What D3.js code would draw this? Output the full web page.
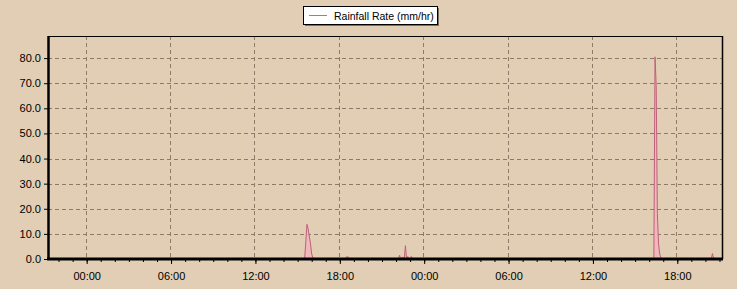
<!DOCTYPE html>
<html>
<head>
<meta charset="utf-8">
<script src="https://cdn.jsdelivr.net/npm/d3@7"></script>
<style>
  body { margin: 0; background: #e1ceb4; }
  svg { display: block; font-family: "Liberation Sans", Arial, sans-serif; }
</style>
</head>
<body>
<div id="chart"></div>
<script>
  // rainfall readings, only the wet spells; everything else is zero
  var times = [
    '2024-06-02T15:30', '2024-06-02T15:40', '2024-06-02T15:45', '2024-06-02T15:55',
    '2024-06-02T16:00', '2024-06-02T16:05', '2024-06-02T16:15',
    '2024-06-02T18:25', '2024-06-02T18:30', '2024-06-02T18:40', '2024-06-02T18:45',
    '2024-06-02T22:10', '2024-06-02T22:15', '2024-06-02T22:20', '2024-06-02T22:30',
    '2024-06-02T22:35', '2024-06-02T22:40', '2024-06-02T22:45', '2024-06-02T22:50',
    '2024-06-02T22:55', '2024-06-02T23:00', '2024-06-02T23:05', '2024-06-02T23:10',
    '2024-06-02T23:15',
    '2024-06-03T16:20', '2024-06-03T16:25', '2024-06-03T16:30', '2024-06-03T16:35',
    '2024-06-03T16:40', '2024-06-03T16:45', '2024-06-03T16:50', '2024-06-03T16:55',
    '2024-06-03T20:25', '2024-06-03T20:30', '2024-06-03T20:35'
  ];
  var rates = [
    0, 13.8, 12.0, 6.0,
    2.0, 0.5, 0,
    0, 1.0, 0.5, 0,
    0, 1.5, 0, 0.8,
    0, 5.3, 0, 1.0,
    0, 0, 1.0, 0,
    0,
    0, 80.5, 69.0, 18.0,
    6.0, 2.0, 0.5, 0,
    0, 2.2, 0
  ];
  var yTicks = [0, 10, 20, 30, 40, 50, 60, 70, 80];
  var seriesName = 'Rainfall Rate (mm/hr)';
  var startTime = '2024-06-01T21:15';
  var endTime = '2024-06-03T21:15';

(function() {
  var w = 737, h = 289;
  var padL = 48, padR = 723, padT = 36, padB = 259;

  var parse = d3.utcParse('%Y-%m-%dT%H:%M');
  var data = times.map(function(t, i) {
    return { t: parse(t), v: rates[i] };
  });
  // pad with zero at the window edges
  data.unshift({ t: parse(startTime), v: 0 });
  data.push({ t: parse(endTime), v: 0 });

  var x = d3.scaleUtc().domain([parse(startTime), parse(endTime)]).range([padL, padR]);
  var y = d3.scaleLinear().domain([0, 88.8]).range([padB, padT]);

  var svg = d3.select('#chart').append('svg').attr('width', w).attr('height', h);

  var gridColor = '#8c7b69';
  var majorTicks = x.ticks(d3.utcHour.every(6));
  var minorTicks = x.ticks(d3.utcMinute.every(90));

  // grid
  svg.append('g').selectAll('line')
    .data(majorTicks)
    .enter()
    .append('line')
    .attr('x1', function(d) { return Math.round(x(d)) - 0.5; })
    .attr('x2', function(d) { return Math.round(x(d)) - 0.5; })
    .attr('y1', padT)
    .attr('y2', padB)
    .attr('stroke', gridColor)
    .attr('stroke-dasharray', '4,3');

  svg.append('g').selectAll('line')
    .data(yTicks.slice(1))
    .enter()
    .append('line')
    .attr('y1', function(d) { return Math.round(y(d)) + 0.5; })
    .attr('y2', function(d) { return Math.round(y(d)) + 0.5; })
    .attr('x1', padL)
    .attr('x2', padR)
    .attr('stroke', gridColor)
    .attr('stroke-dasharray', '4,3');

  // series
  var area = d3.area()
    .x(function(d) { return x(d.t); })
    .y0(y(0))
    .y1(function(d) { return y(d.v); });
  var line = d3.line()
    .x(function(d) { return x(d.t); })
    .y(function(d) { return y(d.v); });

  svg.append('path').datum(data)
    .attr('d', area)
    .attr('fill', '#f2b3bd')
    .attr('opacity', 0.8);
  svg.append('path').datum(data)
    .attr('d', line)
    .attr('fill', 'none')
    .attr('stroke', '#c0607a')
    .attr('stroke-width', 1);

  // frame
  svg.append('line').attr('x1', padL).attr('x2', padR).attr('y1', padT + 0.5).attr('y2', padT + 0.5)
    .attr('stroke', 'black');
  svg.append('line').attr('x1', padR - 0.5).attr('x2', padR - 0.5).attr('y1', padT).attr('y2', padB)
    .attr('stroke', 'black').attr('stroke-width', 1.5);

  // y axis
  var yAxis = d3.axisLeft(y).tickValues(yTicks).tickFormat(d3.format('.1f')).tickSize(4).tickPadding(3);
  var yg = svg.append('g').attr('transform', 'translate(' + padL + ',0)').call(yAxis);
  yg.select('.domain').attr('stroke-width', 2.5).attr('d', 'M0.5,' + padT + 'V' + padB);
  yg.selectAll('.tick line').attr('stroke', 'black');
  yg.selectAll('text').attr('font-size', 11).attr('font-family', '"Liberation Sans", Arial, sans-serif')
    .attr('fill', 'black');

  // x axis, minor then major
  var xMinor = d3.axisBottom(x).tickValues(minorTicks).tickSize(3).tickFormat('');
  svg.append('g').attr('transform', 'translate(0,' + padB + ')').call(xMinor)
    .select('.domain').remove();

  var xAxis = d3.axisBottom(x).tickValues(majorTicks).tickFormat(d3.utcFormat('%H:%M')).tickSize(5).tickPadding(8);
  var xg = svg.append('g').attr('transform', 'translate(0,' + padB + ')').call(xAxis);
  xg.select('.domain').attr('stroke-width', 3).attr('d', 'M' + (padL - 1) + ',0H' + padR);
  xg.selectAll('text').attr('font-size', 11).attr('font-family', '"Liberation Sans", Arial, sans-serif')
    .attr('fill', 'black');

  // legend
  var lg = svg.append('g').attr('transform', 'translate(303,6)');
  lg.append('rect').attr('x', 2).attr('y', 2).attr('width', 134).attr('height', 18).attr('fill', '#7d6f60');
  lg.append('rect').attr('x', 0.5).attr('y', 0.5).attr('width', 134).attr('height', 18)
    .attr('fill', 'white').attr('stroke', 'black');
  lg.append('line').attr('x1', 6).attr('x2', 24).attr('y1', 9.5).attr('y2', 9.5)
    .attr('stroke', '#a07c88');
  lg.append('text').attr('x', 31).attr('y', 14).attr('font-size', 10.5).text(seriesName);
})();
</script>
</body>
</html>
